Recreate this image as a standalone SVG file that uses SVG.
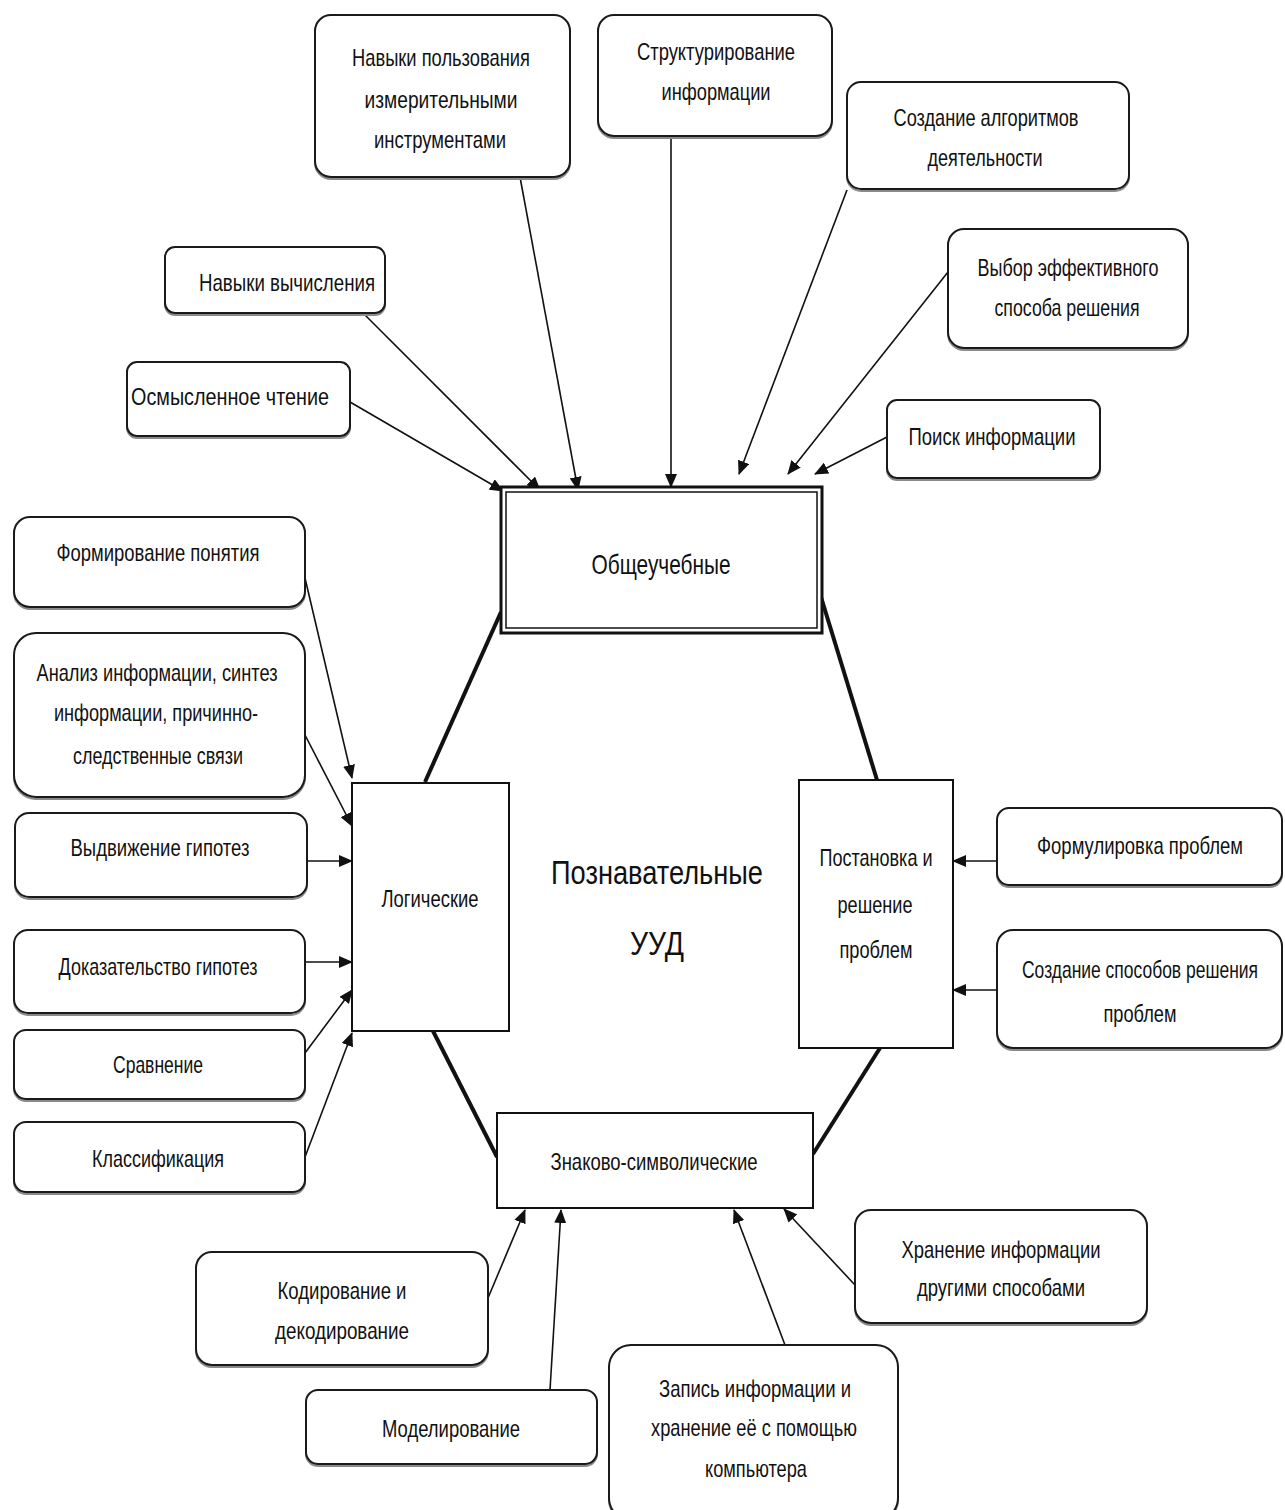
<svg xmlns="http://www.w3.org/2000/svg" width="1285" height="1510" viewBox="0 0 1285 1510">
<defs>
<style>
.bx{fill:#fff;stroke:#1a1a1a;stroke-width:2}
.sh{fill:none;stroke:#8a8a8a;stroke-width:2}
.rb{fill:#fff;stroke:#111;stroke-width:2}
.t{font-family:"Liberation Sans",Arial,sans-serif;font-size:24px;fill:#111;text-anchor:middle}
.tc{font-family:"Liberation Sans",Arial,sans-serif;font-size:33px;fill:#111;text-anchor:middle}
.tb{font-family:"Liberation Sans",Arial,sans-serif;font-size:28px;fill:#111;text-anchor:middle}
.ar{stroke:#111;stroke-width:1.6;fill:none;marker-end:url(#ah)}
.hx{stroke:#111;stroke-width:4;fill:none}
</style>
<marker id="ah" markerUnits="userSpaceOnUse" markerWidth="14" markerHeight="12" refX="13" refY="6" orient="auto">
<path d="M0,0 L14,6 L0,12 Z" fill="#111"/>
</marker>
</defs>
<rect width="1285" height="1510" fill="#fff"/>

<g id="connectors">
<line class="hx" x1="425" y1="782" x2="501" y2="612"/>
<line class="hx" x1="821" y1="597" x2="877" y2="780"/>
<line class="hx" x1="433" y1="1031" x2="497" y2="1157"/>
<line class="hx" x1="880" y1="1048" x2="813" y2="1154"/>

<line class="ar" x1="350" y1="402" x2="503" y2="491"/>
<line class="ar" x1="365" y1="315" x2="540" y2="490"/>
<line class="ar" x1="520" y1="177" x2="578" y2="490"/>
<line class="ar" x1="671" y1="136" x2="671" y2="487"/>
<line class="ar" x1="847" y1="190" x2="739" y2="474"/>
<line class="ar" x1="948" y1="272" x2="788" y2="474"/>
<line class="ar" x1="887" y1="437" x2="815" y2="474"/>

<line class="ar" x1="305" y1="578" x2="352" y2="778"/>
<line class="ar" x1="305" y1="735" x2="352" y2="826"/>
<line class="ar" x1="307" y1="861" x2="352" y2="861"/>
<line class="ar" x1="305" y1="962" x2="352" y2="962"/>
<line class="ar" x1="305" y1="1053" x2="352" y2="990"/>
<line class="ar" x1="305" y1="1157" x2="352" y2="1033"/>

<line class="ar" x1="997" y1="861" x2="953" y2="861"/>
<line class="ar" x1="997" y1="990" x2="953" y2="990"/>

<line class="ar" x1="488" y1="1298" x2="525" y2="1210"/>
<line class="ar" x1="550" y1="1390" x2="561" y2="1210"/>
<line class="ar" x1="785" y1="1345" x2="734" y2="1210"/>
<line class="ar" x1="855" y1="1285" x2="784" y2="1209"/>
</g>

<g id="n-obsh">
<rect x="501" y="487" width="321" height="146" fill="#fff" stroke="#111" stroke-width="3"/>
<rect x="506" y="492" width="311" height="136" fill="none" stroke="#111" stroke-width="1.5"/>
<text class="tb" x="661" y="574" textLength="139" lengthAdjust="spacingAndGlyphs">Общеучебные</text>
</g>

<g id="n-log">
<rect class="rb" x="352" y="783" width="157" height="248"/>
<text class="t" x="430" y="907" textLength="97" lengthAdjust="spacingAndGlyphs">Логические</text>
</g>

<g id="n-post">
<rect class="rb" x="799" y="780" width="154" height="268"/>
<text class="t" x="876" y="866" textLength="113" lengthAdjust="spacingAndGlyphs">Постановка и</text>
<text class="t" x="875" y="913" textLength="75" lengthAdjust="spacingAndGlyphs">решение</text>
<text class="t" x="876" y="958" textLength="73" lengthAdjust="spacingAndGlyphs">проблем</text>
</g>

<g id="n-znak">
<rect class="rb" x="497" y="1113" width="316" height="95"/>
<text class="t" x="654" y="1170" textLength="207" lengthAdjust="spacingAndGlyphs">Знаково-символические</text>
</g>

<g id="center">
<text class="tc" x="657" y="884" textLength="212" lengthAdjust="spacingAndGlyphs">Познавательные</text>
<text class="tc" x="657" y="955" textLength="54" lengthAdjust="spacingAndGlyphs">УУД</text>
</g>

<g id="n-navyki-polz">
<rect class="sh" x="315" y="17" width="255" height="162" rx="16"/>
<rect class="bx" x="315" y="15" width="255" height="162" rx="16"/>
<text class="t" x="441" y="66" textLength="178" lengthAdjust="spacingAndGlyphs">Навыки пользования</text>
<text class="t" x="441" y="108" textLength="153" lengthAdjust="spacingAndGlyphs">измерительными</text>
<text class="t" x="440" y="148" textLength="132" lengthAdjust="spacingAndGlyphs">инструментами</text>
</g>

<g id="n-strukt">
<rect class="sh" x="598" y="17" width="234" height="121" rx="16"/>
<rect class="bx" x="598" y="15" width="234" height="121" rx="16"/>
<text class="t" x="716" y="60" textLength="158" lengthAdjust="spacingAndGlyphs">Структурирование</text>
<text class="t" x="716" y="100" textLength="109" lengthAdjust="spacingAndGlyphs">информации</text>
</g>

<g id="n-algoritm">
<rect class="sh" x="847" y="84" width="282" height="107" rx="14"/>
<rect class="bx" x="847" y="82" width="282" height="107" rx="14"/>
<text class="t" x="986" y="126" textLength="185" lengthAdjust="spacingAndGlyphs">Создание алгоритмов</text>
<text class="t" x="985" y="166" textLength="115" lengthAdjust="spacingAndGlyphs">деятельности</text>
</g>

<g id="n-vychisl">
<rect class="sh" x="165" y="249" width="220" height="66" rx="10"/>
<rect class="bx" x="165" y="247" width="220" height="66" rx="10"/>
<text class="t" x="287" y="291" textLength="176" lengthAdjust="spacingAndGlyphs">Навыки вычисления</text>
</g>

<g id="n-vybor">
<rect class="sh" x="948" y="231" width="240" height="119" rx="16"/>
<rect class="bx" x="948" y="229" width="240" height="119" rx="16"/>
<text class="t" x="1068" y="276" textLength="181" lengthAdjust="spacingAndGlyphs">Выбор эффективного</text>
<text class="t" x="1067" y="316" textLength="145" lengthAdjust="spacingAndGlyphs">способа решения</text>
</g>

<g id="n-chtenie">
<rect class="sh" x="127" y="364" width="223" height="74" rx="10"/>
<rect class="bx" x="127" y="362" width="223" height="74" rx="10"/>
<text class="t" x="230" y="405" textLength="198" lengthAdjust="spacingAndGlyphs">Осмысленное чтение</text>
</g>

<g id="n-poisk">
<rect class="sh" x="887" y="402" width="213" height="78" rx="10"/>
<rect class="bx" x="887" y="400" width="213" height="78" rx="10"/>
<text class="t" x="992" y="445" textLength="167" lengthAdjust="spacingAndGlyphs">Поиск информации</text>
</g>

<g id="n-formir">
<rect class="sh" x="14" y="519" width="291" height="90" rx="16"/>
<rect class="bx" x="14" y="517" width="291" height="90" rx="16"/>
<text class="t" x="158" y="561" textLength="203" lengthAdjust="spacingAndGlyphs">Формирование понятия</text>
</g>

<g id="n-analiz">
<rect class="sh" x="14" y="635" width="291" height="164" rx="22"/>
<rect class="bx" x="14" y="633" width="291" height="164" rx="22"/>
<text class="t" x="157" y="681" textLength="241" lengthAdjust="spacingAndGlyphs">Анализ информации, синтез</text>
<text class="t" x="156" y="721" textLength="204" lengthAdjust="spacingAndGlyphs">информации, причинно-</text>
<text class="t" x="158" y="764" textLength="170" lengthAdjust="spacingAndGlyphs">следственные связи</text>
</g>

<g id="n-vydv">
<rect class="sh" x="15" y="815" width="292" height="84" rx="14"/>
<rect class="bx" x="15" y="813" width="292" height="84" rx="14"/>
<text class="t" x="160" y="856" textLength="179" lengthAdjust="spacingAndGlyphs">Выдвижение гипотез</text>
</g>

<g id="n-dokaz">
<rect class="sh" x="14" y="932" width="291" height="83" rx="14"/>
<rect class="bx" x="14" y="930" width="291" height="83" rx="14"/>
<text class="t" x="158" y="975" textLength="199" lengthAdjust="spacingAndGlyphs">Доказательство гипотез</text>
</g>

<g id="n-sravn">
<rect class="sh" x="14" y="1032" width="291" height="69" rx="12"/>
<rect class="bx" x="14" y="1030" width="291" height="69" rx="12"/>
<text class="t" x="158" y="1073" textLength="90" lengthAdjust="spacingAndGlyphs">Сравнение</text>
</g>

<g id="n-klass">
<rect class="sh" x="14" y="1124" width="291" height="70" rx="12"/>
<rect class="bx" x="14" y="1122" width="291" height="70" rx="12"/>
<text class="t" x="158" y="1167" textLength="132" lengthAdjust="spacingAndGlyphs">Классификация</text>
</g>

<g id="n-formul">
<rect class="sh" x="997" y="810" width="285" height="77" rx="12"/>
<rect class="bx" x="997" y="808" width="285" height="77" rx="12"/>
<text class="t" x="1140" y="854" textLength="206" lengthAdjust="spacingAndGlyphs">Формулировка проблем</text>
</g>

<g id="n-sozd-spos">
<rect class="sh" x="997" y="932" width="285" height="118" rx="16"/>
<rect class="bx" x="997" y="930" width="285" height="118" rx="16"/>
<text class="t" x="1140" y="978" textLength="236" lengthAdjust="spacingAndGlyphs">Создание способов решения</text>
<text class="t" x="1140" y="1022" textLength="73" lengthAdjust="spacingAndGlyphs">проблем</text>
</g>

<g id="n-kodir">
<rect class="sh" x="196" y="1254" width="292" height="113" rx="16"/>
<rect class="bx" x="196" y="1252" width="292" height="113" rx="16"/>
<text class="t" x="342" y="1299" textLength="129" lengthAdjust="spacingAndGlyphs">Кодирование и</text>
<text class="t" x="342" y="1339" textLength="134" lengthAdjust="spacingAndGlyphs">декодирование</text>
</g>

<g id="n-model">
<rect class="sh" x="306" y="1392" width="291" height="74" rx="12"/>
<rect class="bx" x="306" y="1390" width="291" height="74" rx="12"/>
<text class="t" x="451" y="1437" textLength="138" lengthAdjust="spacingAndGlyphs">Моделирование</text>
</g>

<g id="n-zapis">
<rect class="sh" x="609" y="1347" width="289" height="175" rx="22"/>
<rect class="bx" x="609" y="1345" width="289" height="175" rx="22"/>
<text class="t" x="755" y="1397" textLength="192" lengthAdjust="spacingAndGlyphs">Запись информации и</text>
<text class="t" x="754" y="1436" textLength="206" lengthAdjust="spacingAndGlyphs">хранение её с помощью</text>
<text class="t" x="756" y="1477" textLength="102" lengthAdjust="spacingAndGlyphs">компьютера</text>
</g>

<g id="n-hranen">
<rect class="sh" x="855" y="1212" width="292" height="113" rx="16"/>
<rect class="bx" x="855" y="1210" width="292" height="113" rx="16"/>
<text class="t" x="1001" y="1258" textLength="199" lengthAdjust="spacingAndGlyphs">Хранение информации</text>
<text class="t" x="1001" y="1296" textLength="168" lengthAdjust="spacingAndGlyphs">другими способами</text>
</g>
</svg>
